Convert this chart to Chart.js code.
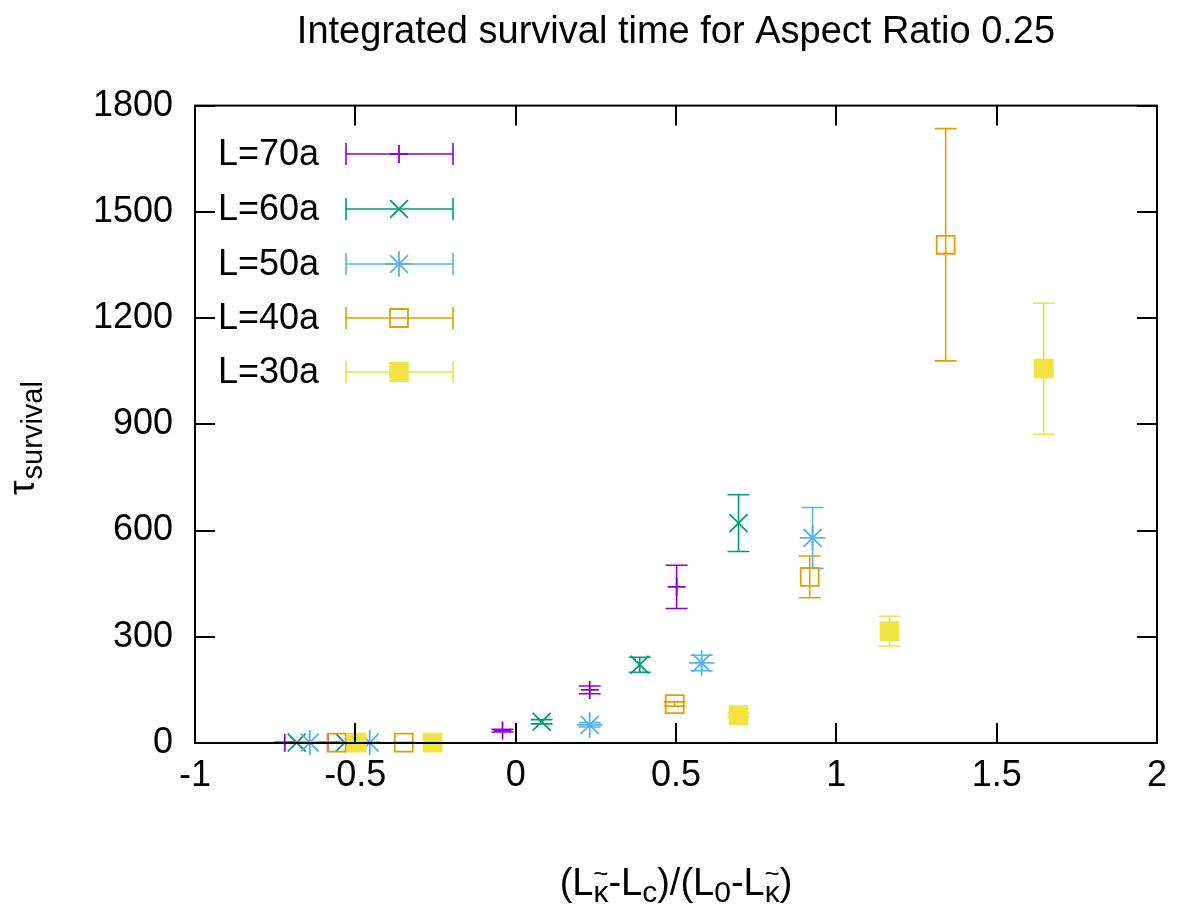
<!DOCTYPE html>
<html>
<head>
<meta charset="utf-8">
<script src="https://cdn.jsdelivr.net/npm/chart.js@4.4.1/dist/chart.umd.min.js"></script>
<style>
  html, body { margin: 0; padding: 0; background: #fff; }
  #wrap { width: 1178px; height: 909px; }
</style>
</head>
<body>
<div id="wrap"><canvas id="survivalChart" width="1178" height="909"></canvas></div>
<script>
const FONT = "'Liberation Sans', Arial, Helvetica, sans-serif";

const chartTitle = "Integrated survival time for Aspect Ratio 0.25";
const seriesLabels = ["L=70a", "L=60a", "L=50a", "L=40a", "L=30a"];
const seriesColors = ["#9400d3", "#009e73", "#56b4e9", "#e69f00", "#f0e442"];

// x = (L_k - L_c)/(L_0 - L_k), y = tau_survival, err = half error bar
const l70X = [-0.72, -0.586, -0.041, 0.231, 0.502];
const l70Y = [1, 1, 35, 150, 441];
const l70Err = [1, 1, 4, 11, 61];

const l60X = [-0.683, -0.533, 0.081, 0.387, 0.695];
const l60Y = [1, 1, 60, 221, 621];
const l60Err = [1, 1, 6, 21, 80];

const l50X = [-0.642, -0.455, 0.231, 0.58, 0.926];
const l50Y = [1, 1, 51, 226, 579];
const l50Err = [1, 1, 6, 22, 86];

const l40X = [-0.558, -0.349, 0.496, 0.917, 1.341];
const l40Y = [1, 1, 110, 469, 1407];
const l40Err = [1, 1, 6, 59, 328];

const l30X = [-0.496, -0.259, 0.695, 1.166, 1.647];
const l30Y = [1, 1, 79, 316, 1057];
const l30Err = [1, 1, 6, 42, 185];

const xTicks = [-1, -0.5, 0, 0.5, 1, 1.5, 2];
const yTicks = [0, 300, 600, 900, 1200, 1500, 1800];

// x label pieces: [text, isSubscript, hasTilde]
const xLabelParts = [
  ["(L", false, false], ["κ", true, true], ["-L", false, false], ["c", true, false],
  [")/(L", false, false], ["0", true, false], ["-L", false, false], ["κ", true, true], [")", false, false],
];
const yLabelMain = "τ";
const yLabelSub = "survival";

function toPoints(xs, ys) {
  return xs.map((x, i) => ({ x: x, y: ys[i] }));
}

const seriesX = [l70X, l60X, l50X, l40X, l30X];
const seriesY = [l70Y, l60Y, l50Y, l40Y, l30Y];
const seriesErr = [l70Err, l60Err, l50Err, l40Err, l30Err];
const markerStyles = ["cross", "crossRot", "star", "rect", "rect"];
const markerRadius = [9, 12.7, 12.7, 12.7, 12.7];
const markerFilled = [false, false, false, false, true];

const datasets = seriesLabels.map((label, i) => ({
  label: label,
  data: toPoints(seriesX[i], seriesY[i]),
  errors: seriesErr[i],
  borderColor: seriesColors[i],
  backgroundColor: markerFilled[i] ? seriesColors[i] : "rgba(0,0,0,0)",
  pointStyle: markerStyles[i],
  pointRadius: markerRadius[i],
  pointHoverRadius: markerRadius[i],
  pointBorderWidth: 1.8,
  showLine: false,
  clip: false,
  order: seriesLabels.length - 1 - i,
}));

const errorBarPlugin = {
  id: "errorBars",
  beforeDatasetDraw(chart, args) {
    const ds = chart.data.datasets[args.index];
    const yScale = chart.scales.y;
    const ctx = chart.ctx;
    ctx.save();
    ctx.strokeStyle = ds.borderColor;
    ctx.lineWidth = 1.6;
    args.meta.data.forEach((pt, j) => {
      const v = ds.data[j].y;
      const e = ds.errors[j];
      const yTop = yScale.getPixelForValue(v + e);
      const yBot = yScale.getPixelForValue(v - e);
      ctx.beginPath();
      ctx.moveTo(pt.x, yTop);
      ctx.lineTo(pt.x, yBot);
      ctx.moveTo(pt.x - 11, yTop);
      ctx.lineTo(pt.x + 11, yTop);
      ctx.moveTo(pt.x - 11, yBot);
      ctx.lineTo(pt.x + 11, yBot);
      ctx.stroke();
    });
    ctx.restore();
  },
};

const framePlugin = {
  id: "gnuplotFrame",
  afterDatasetsDraw(chart) {
    const ctx = chart.ctx;
    const area = chart.chartArea;
    const xs = chart.scales.x;
    const ys = chart.scales.y;
    const tick = 20;
    ctx.save();
    ctx.strokeStyle = "#000";
    ctx.lineWidth = 2;
    ctx.beginPath();
    xs.ticks.forEach((t) => {
      const px = Math.round(xs.getPixelForValue(t.value));
      ctx.moveTo(px, area.bottom);
      ctx.lineTo(px, area.bottom - tick);
      ctx.moveTo(px, area.top);
      ctx.lineTo(px, area.top + tick);
    });
    ys.ticks.forEach((t) => {
      const py = Math.round(ys.getPixelForValue(t.value));
      ctx.moveTo(area.left, py);
      ctx.lineTo(area.left + tick, py);
      ctx.moveTo(area.right, py);
      ctx.lineTo(area.right - tick, py);
    });
    ctx.stroke();
    ctx.strokeRect(area.left, area.top, area.right - area.left, area.bottom - area.top);
    ctx.restore();
  },
  afterDraw(chart) {
    const ctx = chart.ctx;
    const area = chart.chartArea;
    ctx.save();
    ctx.fillStyle = "#000";

    // legend, gnuplot style: text then sample
    const rowY = [154, 209, 264, 318, 372];
    chart.data.datasets.forEach((ds, i) => {
      const y = rowY[i];
      ctx.font = "36px " + FONT;
      ctx.textAlign = "left";
      ctx.textBaseline = "middle";
      ctx.fillStyle = "#000";
      ctx.fillText(ds.label, 218, y + 1);
      ctx.strokeStyle = ds.borderColor;
      ctx.lineWidth = 1.6;
      ctx.beginPath();
      ctx.moveTo(346, y);
      ctx.lineTo(453, y);
      ctx.moveTo(346, y - 11);
      ctx.lineTo(346, y + 11);
      ctx.moveTo(453, y - 11);
      ctx.lineTo(453, y + 11);
      ctx.stroke();
      ctx.lineWidth = ds.pointBorderWidth;
      ctx.fillStyle = ds.backgroundColor;
      Chart.helpers.drawPoint(ctx, {
        pointStyle: ds.pointStyle,
        radius: ds.pointRadius,
        rotation: 0,
        borderWidth: ds.pointBorderWidth,
      }, 399, y);
    });

    // x axis label with subscripts
    const mainFont = "38px " + FONT;
    const subFont = "30px " + FONT;
    let total = 0;
    xLabelParts.forEach(([txt, sub]) => {
      ctx.font = sub ? subFont : mainFont;
      total += ctx.measureText(txt).width;
    });
    let x = (area.left + area.right) / 2 - total / 2;
    ctx.fillStyle = "#000";
    ctx.textBaseline = "alphabetic";
    xLabelParts.forEach(([txt, sub, tilde]) => {
      ctx.font = sub ? subFont : mainFont;
      ctx.textAlign = "left";
      const w = ctx.measureText(txt).width;
      ctx.fillText(txt, x, sub ? 902 : 895);
      if (tilde) {
        ctx.textAlign = "center";
        ctx.font = "26px " + FONT;
        ctx.fillText("~", x + w / 2, 882);
      }
      x += w;
    });

    // y axis label
    ctx.textAlign = "left";
    ctx.translate(34, 495);
    ctx.rotate(-Math.PI / 2);
    ctx.font = "37px " + FONT;
    ctx.fillText(yLabelMain, 0, 0);
    const tw = ctx.measureText(yLabelMain).width;
    ctx.font = "29px " + FONT;
    ctx.fillText(yLabelSub, tw + 1, 8);
    ctx.restore();
  },
};

new Chart(document.getElementById("survivalChart"), {
  type: "scatter",
  data: { datasets: datasets },
  options: {
    responsive: false,
    animation: false,
    events: [],
    layout: { padding: { top: 0, right: 21, bottom: 0, left: 0 } },
    plugins: {
      legend: { display: false },
      tooltip: { enabled: false },
      title: {
        display: true,
        fullSize: false,
        text: chartTitle,
        color: "#000",
        font: { family: FONT, size: 38, weight: "normal" },
        padding: { top: 10, bottom: 50 },
      },
    },
    scales: {
      x: {
        type: "linear",
        min: -1,
        max: 2,
        afterBuildTicks: (scale) => {
          scale.ticks = xTicks.map((v) => ({ value: v }));
        },
        afterFit: (scale) => {
          scale.height = 166;
        },
        grid: { display: false, drawTicks: false },
        border: { display: false },
        ticks: {
          color: "#000",
          padding: 11,
          maxRotation: 0,
          font: { family: FONT, size: 36 },
          callback: (v) => String(v),
        },
      },
      y: {
        type: "linear",
        min: 0,
        max: 1800,
        afterBuildTicks: (scale) => {
          scale.ticks = yTicks.map((v) => ({ value: v }));
        },
        afterFit: (scale) => {
          scale.width = 195;
        },
        grid: { display: false, drawTicks: false },
        border: { display: false },
        ticks: {
          color: "#000",
          padding: 22,
          font: { family: FONT, size: 36 },
          callback: (v) => String(v),
        },
      },
    },
  },
  plugins: [errorBarPlugin, framePlugin],
});
</script>
</body>
</html>
